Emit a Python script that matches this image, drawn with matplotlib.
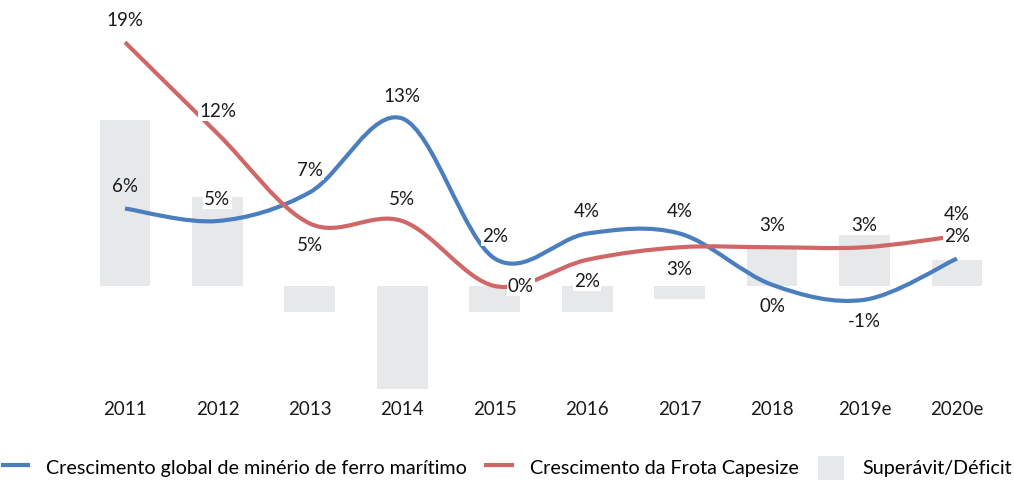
import matplotlib
matplotlib.use("Agg")
import matplotlib.pyplot as plt
from matplotlib.path import Path
from matplotlib.patches import PathPatch, Patch
from matplotlib.lines import Line2D
import numpy as np

plt.rcParams['font.family'] = ['Lato', 'DejaVu Sans']

categories = ["2011", "2012", "2013", "2014", "2015", "2016", "2017", "2018", "2019e", "2020e"]
iron_ore_growth = [6.2, 5.2, 7.5, 13.4, 2.2, 4.2, 4.2, 0.1, -1.1, 2.2]
iron_ore_labels = ["6%", "5%", "7%", "13%", "2%", "4%", "4%", "0%", "-1%", "2%"]
capesize_growth = [19.5, 12.2, 5.0, 5.2, 0.0, 2.1, 3.1, 3.1, 3.1, 4.0]
capesize_labels = ["19%", "12%", "5%", "5%", "0%", "2%", "3%", "3%", "3%", "4%"]
surplus_deficit = [13.3, 7.1, -2.1, -8.2, -2.1, -2.1, -1.0, 3.0, 4.1, 2.1]

# label placement: 'a' above, 'b' below, 'r' right
iron_pos = ['a', 'a', 'a', 'a', 'a', 'a', 'a', 'b', 'b', 'a']
cape_pos = ['a', 'a', 'b', 'a', 'r', 'b', 'b', 'a', 'a', 'a']

BLUE = "#4A7EBF"
RED = "#CF6767"
GRAY = "#E7E8EA"
FS = 13.5

fig = plt.figure(figsize=(10.14, 4.82), dpi=100)
ax = fig.add_axes([0.0777, 0.1732, 0.9116, 0.778])
x = np.arange(len(categories))

ax.bar(x, surplus_deficit, width=0.55, color=GRAY, zorder=1)


def smooth_path(xs, ys):
    pts = np.column_stack([xs, ys]).astype(float)
    n = len(pts)
    verts = [pts[0]]
    codes = [Path.MOVETO]
    for i in range(n - 1):
        p0 = pts[i - 1] if i > 0 else pts[i]
        p1 = pts[i]
        p2 = pts[i + 1]
        p3 = pts[i + 2] if i + 2 < n else pts[i + 1]
        c1 = p1 + (p2 - p0) / 6.0
        c2 = p2 - (p3 - p1) / 6.0
        verts += [c1, c2, p2]
        codes += [Path.CURVE4] * 3
    return Path(verts, codes)


for vals, col in [(iron_ore_growth, BLUE), (capesize_growth, RED)]:
    ax.add_patch(PathPatch(smooth_path(x, vals), facecolor='none', edgecolor=col,
                           lw=3.0, capstyle='butt', zorder=3))


def label(xi, yi, txt, pos, box=True):
    off = {'a': (0, 22), 'b': (0, -22), 'r': (26, 0)}[pos]
    kw = {}
    if box:
        kw['bbox'] = dict(facecolor='white', edgecolor='none', pad=0.8)
    ax.annotate(txt, (xi, yi), xytext=off, textcoords='offset pixels',
                ha='center', va='center', fontsize=FS, color='#1a1a1a',
                zorder=5, annotation_clip=False, **kw)


for i in range(len(categories)):
    label(x[i], iron_ore_growth[i], iron_ore_labels[i], iron_pos[i], box=(i != 0))
    label(x[i], capesize_growth[i], capesize_labels[i], cape_pos[i])

ax.set_xlim(-0.5, len(categories) - 0.5)
ax.set_ylim(-9, 21)
ax.set_xticks(x)
ax.set_xticklabels(categories, fontsize=FS, color='#1a1a1a')
ax.tick_params(axis='x', length=0, pad=2)
ax.set_yticks([])
for s in ax.spines.values():
    s.set_visible(False)

handles = [Line2D([], [], color=BLUE, lw=3),
           Line2D([], [], color=RED, lw=3),
           Patch(facecolor=GRAY, edgecolor='none')]
names = ["Crescimento global de minério de ferro marítimo",
         "Crescimento da Frota Capesize", "Superávit/Déficit"]
fig.legend(handles, names, loc='center', bbox_to_anchor=(0.5, 0.03), ncol=3,
           frameon=False, fontsize=14.2, handlelength=1.3, handleheight=1.5,
           columnspacing=1.0, handletextpad=0.9, borderaxespad=0)

fig.savefig("out.png", dpi=100)
